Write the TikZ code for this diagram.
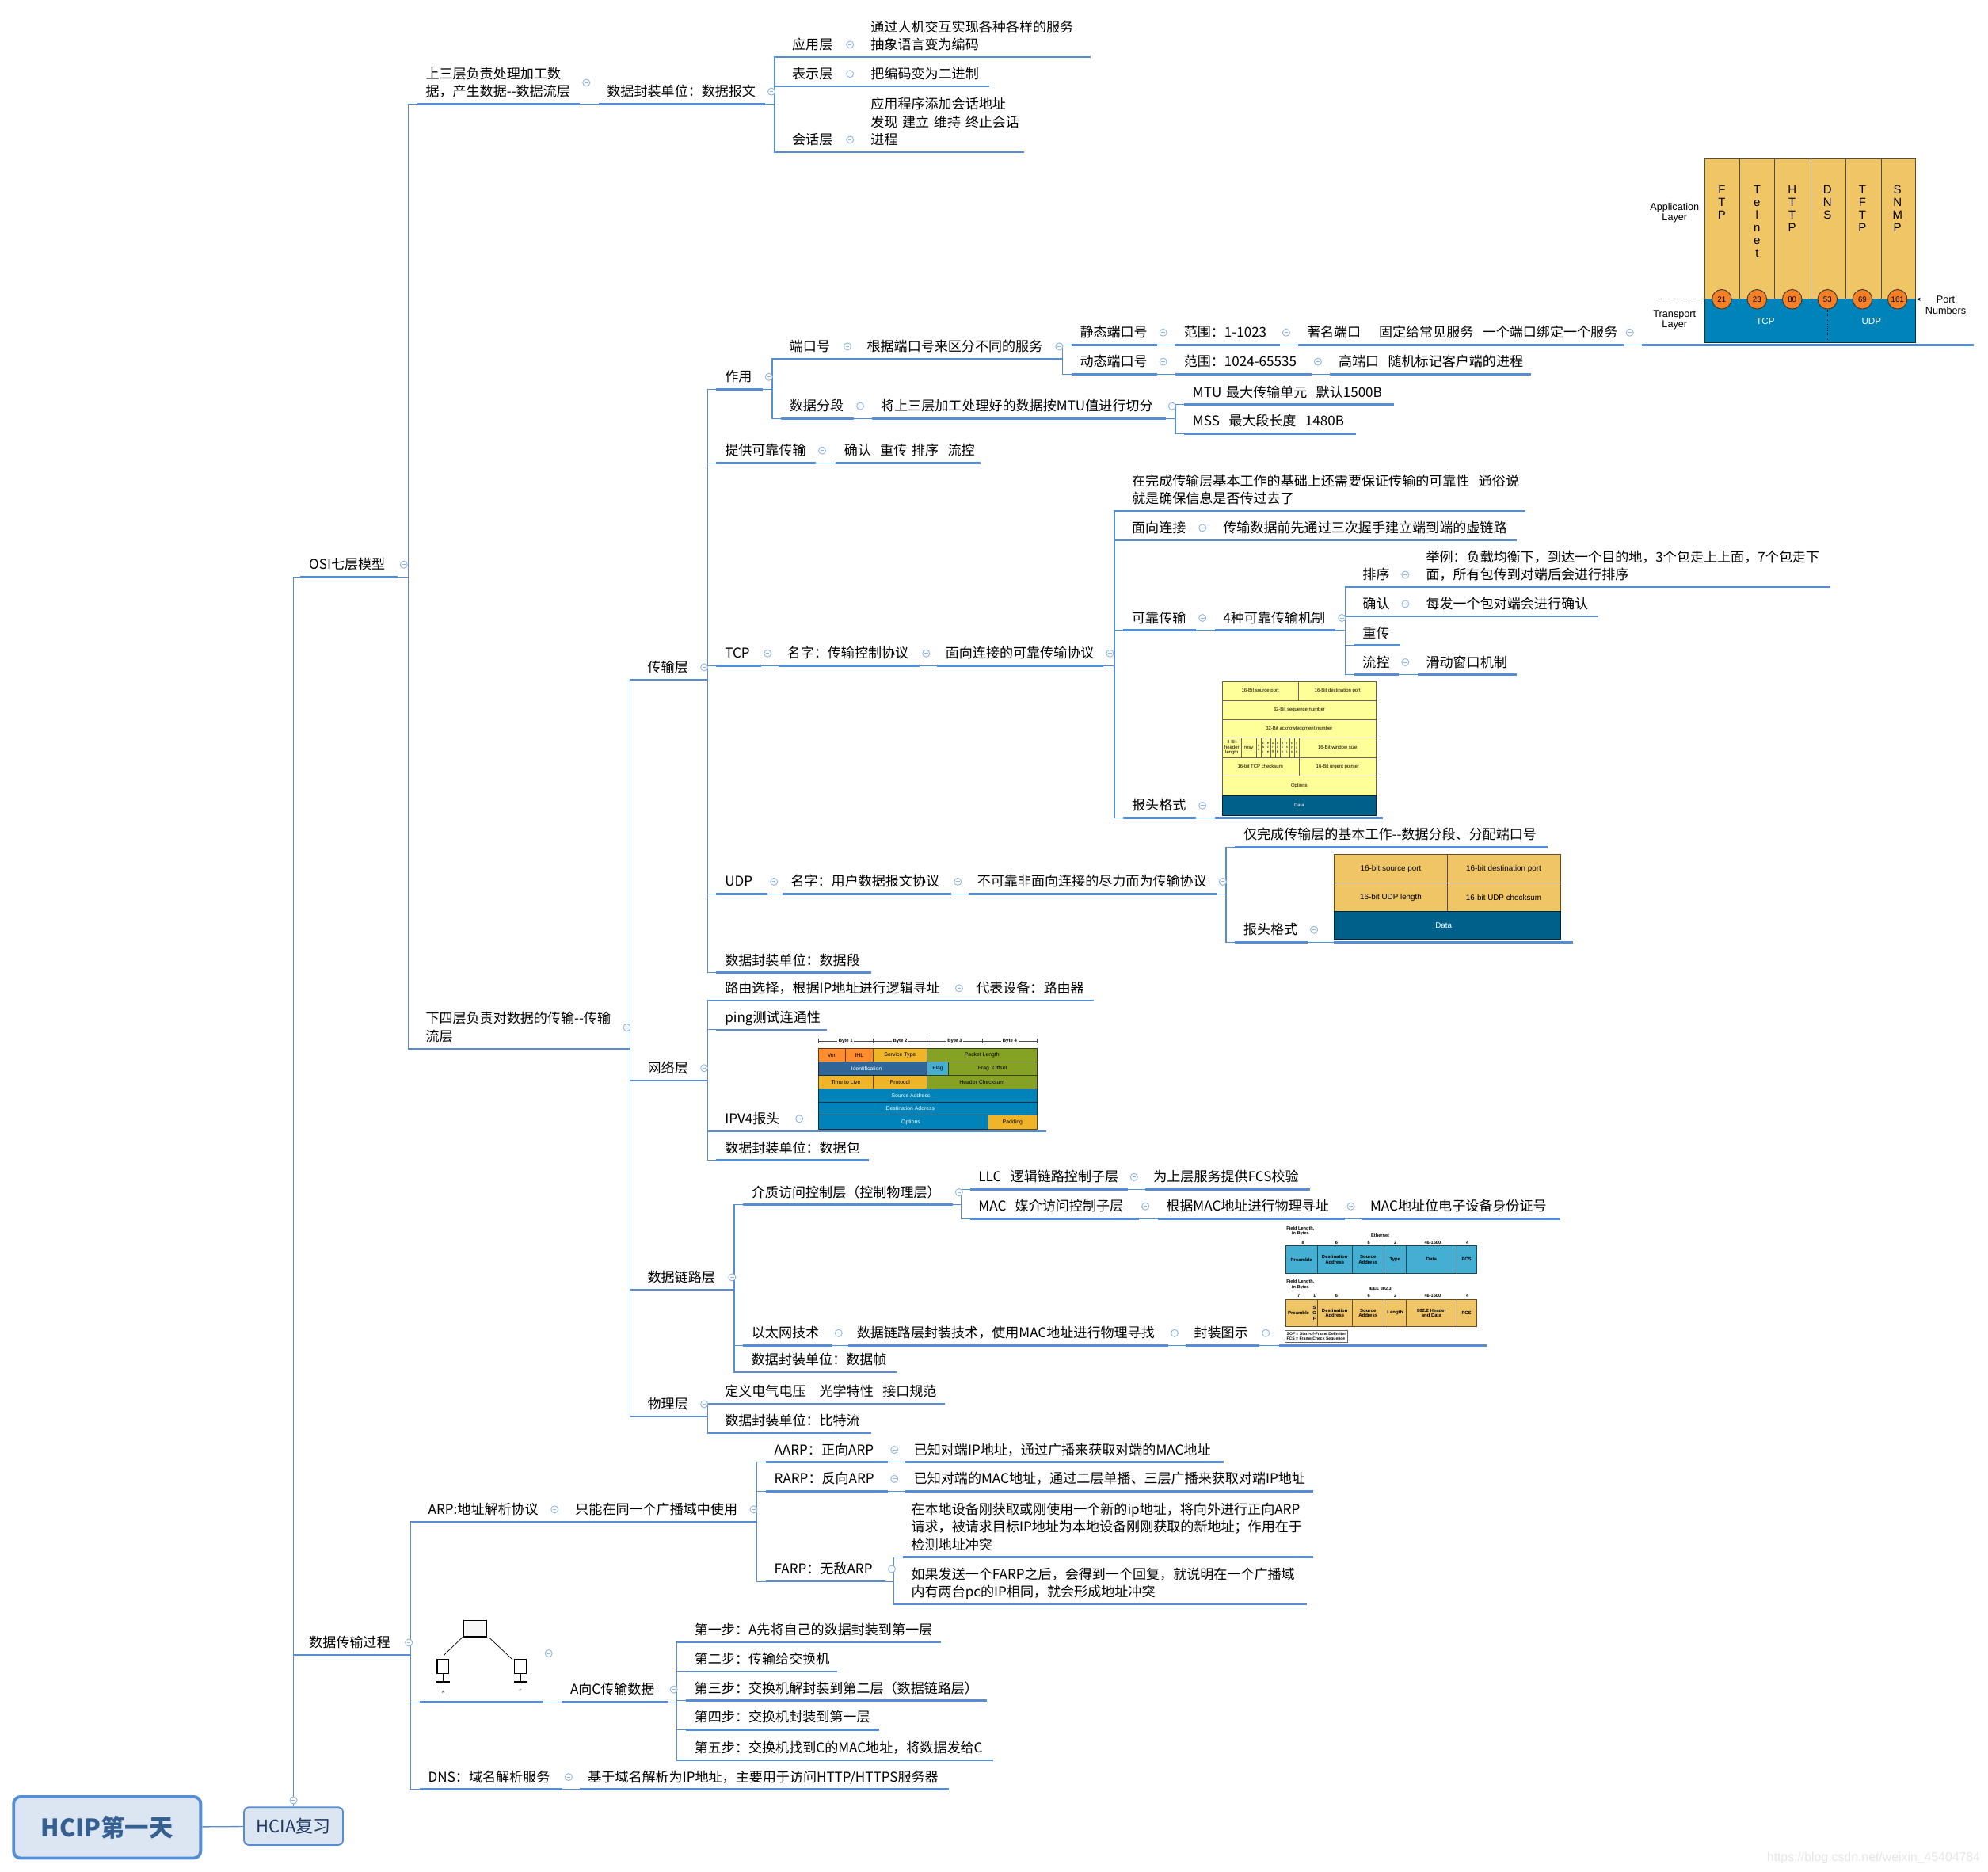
\documentclass[tikz,border=0pt]{standalone}
\usepackage{fontspec}
\setmainfont{Noto Sans CJK SC}
\newfontfamily\imgfont{Liberation Sans}
\usepackage{xcolor}
\usepackage{tikz}
\usetikzlibrary{arrows.meta,calc}
\definecolor{cLine}{HTML}{558ED5}
\definecolor{cFold}{HTML}{8DB4E2}
\definecolor{cPale}{HTML}{DCE6F2}
\definecolor{cNavy}{HTML}{365F91}
\definecolor{cInk}{HTML}{1F3864}
\definecolor{cTan}{HTML}{EFC566}
\definecolor{cSea}{HTML}{0083B8}
\definecolor{cDeep}{HTML}{00608A}
\definecolor{cLemon}{HTML}{FFFF99}
\definecolor{cSky}{HTML}{44AED3}
\definecolor{cPeel}{HTML}{FF8C2E}
\definecolor{cGold}{HTML}{F0B429}
\definecolor{cMoss}{HTML}{85A225}
\definecolor{cSteel}{HTML}{2F6698}
\definecolor{cPort}{HTML}{F58025}
\tikzset{
  topic/.style={anchor=south west,inner xsep=0.21cm,inner ysep=0.05cm,align=left,font=\fontsize{9.7}{12.7}\selectfont},
  uline/.style={draw=cLine,line width=1.5pt},
  link/.style={draw=cLine,line width=0.75pt},
  foldmark/.style={circle,draw=cFold,fill=white,line width=0.5pt,minimum size=0.18cm,inner sep=0pt,
    path picture={\draw[cFold,line width=0.5pt] ([xshift=0.045cm]path picture bounding box.west) -- ([xshift=-0.045cm]path picture bounding box.east);}},
  cell/.style={draw=#1!40!black,fill=#1,line width=0.4pt},
  cell/.default=cTan,
  imgt/.style={font=\imgfont\fontsize{#1}{#1}\selectfont,inner sep=0pt,align=center},
  imgt/.default=3.5,
}
\begin{document}
\begin{tikzpicture}[x=0.032cm,y=-0.032cm]
  \useasboundingbox (0,0) rectangle (1568,1476);
  % root
  \node[draw=cLine,fill=cPale,rounded corners=5pt,line width=2.2pt,minimum width=4.72cm,minimum height=1.55cm,font=\fontsize{17.3}{20}\selectfont\bfseries,text=cNavy] (root) at (84.5,1441) {HCIP第一天};
  \node[draw=cLine,fill=cPale,rounded corners=3pt,line width=1pt,minimum width=2.5cm,minimum height=0.95cm,font=\fontsize{12.5}{15}\selectfont,text=cInk] (hcia) at (231.5,1440) {HCIA复习};
  % topics
  \foreach \n/\xa/\xb/\y/\txt in {
    osi/237/313/455/{OSI七层模型},
    trans/237/317/1305/{数据传输过程},
    up/329/457/82/{上三层负责处理加工数\\据，产生数据-{}-数据流层},
    low/329/489/827/{下四层负责对数据的传输-{}-传输\\流层},
    unit/472/603/82/{数据封装单位：数据报文},
    app/618/665/45/{应用层},
    appx/680/860/45/{通过人机交互实现各种各样的服务\\抽象语言变为编码},
    pres/618/665/68/{表示层},
    presx/680/780/68/{把编码变为二进制},
    sess/618/665/120/{会话层},
    sessx/680/807/120/{应用程序添加会话地址\\发现~建立~维持~终止会话\\进程},
    tl/504/550/536/{传输层},
    nl/504/550/852/{网络层},
    dll/504/572/1017/{数据链路层},
    pl/504/550/1117/{物理层},
    use/565/601/307/{作用},
    port/616/663/283/{端口号},
    portx/677/830/283/{根据端口号来区分不同的服务},
    stat/845/912/272/{静态端口号},
    statr/927/1009/272/{范围：1-1023},
    statn/1024/1280/272/{著名端口~~~~固定给常见服务~~一个端口绑定一个服务},
    dyn/845/912/295/{动态端口号},
    dynr/927/1034/295/{范围：1024-65535},
    dynh/1049/1207/295/{高端口~~随机标记客户端的进程},
    seg/616/673/330/{数据分段},
    segx/688/919/330/{将上三层加工处理好的数据按MTU值进行切分},
    mtu/934/1099/319/{MTU~最大传输单元~~默认1500B},
    mss/934/1069/342/{MSS~~最大段长度~~1480B},
    rel/565/643/365/{提供可靠传输},
    relx/659/773/365/{确认~~重传~排序~~流控},
    tcp/565/600/525/{TCP},
    tcpn/614/725/525/{名字：传输控制协议},
    tcpc/739/870/525/{面向连接的可靠传输协议},
    tcpa/886/1203/403/{在完成传输层基本工作的基础上还需要保证传输的可靠性~~通俗说\\就是确保信息是否传过去了},
    conn/886/943/426/{面向连接},
    connx/958/1196/426/{传输数据前先通过三次握手建立端到端的虚链路},
    tcpr/886/943/497/{可靠传输},
    mech/958/1053/497/{4种可靠传输机制},
    sort/1068/1103/463/{排序},
    sortx/1118/1443/463/{举例：负载均衡下，到达一个目的地，3个包走上上面，7个包走下\\面，所有包传到对端后会进行排序},
    ack/1068/1103/486/{确认},
    ackx/1118/1260/486/{每发一个包对端会进行确认},
    resend/1068/1104/509/{重传},
    flow/1068/1103/532/{流控},
    flowx/1118/1196/532/{滑动窗口机制},
    thead/886/943/645/{报头格式},
    udp/565/605/705/{UDP},
    udpn/617/750/705/{名字：用户数据报文协议},
    udpc/764/959/705/{不可靠非面向连接的尽力而为传输协议},
    udpa/974/1220/668/{仅完成传输层的基本工作-{}-数据分段、分配端口号},
    uhead/974/1031/743/{报头格式},
    seu/565/687/767/{数据封装单位：数据段},
    route/565/751/789/{路由选择，根据IP地址进行逻辑寻址},
    routex/763/862/789/{代表设备：路由器},
    ping/565/652/812/{ping测试连通性},
    ipv/565/625/892/{IPV4报头},
    pkt/565/685/915/{数据封装单位：数据包},
    mac/586/751/950/{介质访问控制层（控制物理层）},
    llc/765/889/938/{LLC~~逻辑链路控制子层},
    llcx/903/1033/938/{为上层服务提供FCS校验},
    macs/765/898/961/{MAC~~媒介访问控制子层},
    macx/913/1060/961/{根据MAC地址进行物理寻址},
    macy/1074/1230/961/{MAC地址位电子设备身份证号},
    eth/586/656/1061/{以太网技术},
    ethx/669/921/1061/{数据链路层封装技术，使用MAC地址进行物理寻找},
    ethy/935/993/1061/{封装图示},
    frm/586/707/1082/{数据封装单位：数据帧},
    phy/565/745/1107/{定义电气电压~~~光学特性~~接口规范},
    bit/565/687/1130/{数据封装单位：比特流},
    arp/331/432/1200/{ARP:地址解析协议},
    arpx/447/589/1200/{只能在同一个广播域中使用},
    aarp/604/700/1153/{AARP：正向ARP},
    aarpx/714/965/1153/{已知对端IP地址，通过广播来获取对端的MAC地址},
    rarp/604/700/1176/{RARP：反向ARP},
    rarpx/714/1035/1176/{已知对端的MAC地址，通过二层单播、三层广播来获取对端IP地址},
    farp/604/698/1247/{FARP：无敌ARP},
    farpa/712/1035/1228/{在本地设备刚获取或刚使用一个新的ip地址，将向外进行正向ARP\\请求，被请求目标IP地址为本地设备刚刚获取的新地址；作用在于\\检测地址冲突},
    farpb/712/1030/1265/{如果发送一个FARP之后，会得到一个回复，就说明在一个广播域\\内有两台pc的IP相同，就会形成地址冲突},
    atoc/443/526/1342/{A向C传输数据},
    sa/541/742/1295/{第一步：A先将自己的数据封装到第一层},
    sb/541/660/1318/{第二步：传输给交换机},
    sc/541/778/1341/{第三步：交换机解封装到第二层（数据链路层）},
    sd/541/693/1364/{第四步：交换机封装到第一层},
    se/541/783/1388/{第五步：交换机找到C的MAC地址，将数据发给C},
    dns/331/443/1411/{DNS：域名解析服务},
    dnsx/457/748/1411/{基于域名解析为IP地址，主要用于访问HTTP/HTTPS服务器},
    portpic/1295/1556/272/{},
    tpic/958/1090/645/{},
    upic/1052/1240/743/{},
    ipic/640/825/892/{},
    epic/1009/1172/1061/{}%
  }{
    \pgfmathsetlengthmacro{\tw}{(\xb-\xa-13.125)*0.032cm}
    \node[topic,text width=\tw] (\n) at (\xa,\y) {\strut\txt\strut};
  }
  \node[topic,text width=2.66cm,minimum height=2.37cm] (netpic) at (331,1342) {};
  % connectors
  \draw[link] (root) -- (hcia);
  \draw[link] (hcia.north) |- (osi.south west);
  \draw[link] (hcia.north) |- (trans.south west);
  \foreach \a/\b in {osi/up,osi/low,up/unit,unit/app,unit/pres,unit/sess,app/appx,pres/presx,sess/sessx,
    low/tl,low/nl,low/dll,low/pl,tl/use,tl/rel,tl/tcp,tl/udp,tl/seu,use/port,use/seg,port/portx,portx/stat,portx/dyn,
    stat/statr,statr/statn,statn/portpic,dyn/dynr,dynr/dynh,seg/segx,segx/mtu,segx/mss,rel/relx,tcp/tcpn,tcpn/tcpc,
    tcpc/tcpa,tcpc/conn,tcpc/tcpr,tcpc/thead,conn/connx,tcpr/mech,mech/sort,mech/ack,mech/resend,mech/flow,sort/sortx,ack/ackx,flow/flowx,thead/tpic,
    udp/udpn,udpn/udpc,udpc/udpa,udpc/uhead,uhead/upic,
    nl/route,nl/ping,nl/ipv,nl/pkt,route/routex,ipv/ipic,
    dll/mac,dll/eth,dll/frm,mac/llc,mac/macs,llc/llcx,macs/macx,macx/macy,eth/ethx,ethx/ethy,ethy/epic,
    pl/phy,pl/bit,trans/arp,trans/netpic,trans/dns,arp/arpx,arpx/aarp,arpx/rarp,arpx/farp,aarp/aarpx,rarp/rarpx,farp/farpa,farp/farpb,
    netpic/atoc,atoc/sa,atoc/sb,atoc/sc,atoc/sd,atoc/se,dns/dnsx}{
    \draw[link] (\a.south east) -| ($(\b.south west)+(-7,0)$) -- (\b.south west);
  }
  % underlines
  \foreach \n in {osi,trans,up,low,unit,app,appx,pres,presx,sess,sessx,tl,nl,dll,pl,use,port,portx,stat,statr,statn,dyn,dynr,dynh,seg,segx,mtu,mss,rel,relx,
    tcp,tcpn,tcpc,tcpa,conn,connx,tcpr,mech,sort,sortx,ack,ackx,resend,flow,flowx,thead,udp,udpn,udpc,udpa,uhead,seu,route,routex,ping,ipv,pkt,
    mac,llc,llcx,macs,macx,macy,eth,ethx,ethy,frm,phy,bit,arp,arpx,aarp,aarpx,rarp,rarpx,farp,farpa,farpb,atoc,sa,sb,sc,sd,se,dns,dnsx,portpic,tpic,upic,ipic,epic,netpic}{
    \draw[uline] (\n.south west) -- (\n.south east);
  }
  % fold marks
  \foreach \n in {osi,trans,up,low,unit,app,pres,sess,tl,nl,dll,pl,use,port,portx,stat,statr,statn,dyn,dynr,seg,segx,rel,tcp,tcpn,tcpc,conn,tcpr,mech,sort,ack,flow,thead,
    udp,udpn,udpc,uhead,route,ipv,mac,llc,macs,macx,eth,ethx,ethy,arp,arpx,aarp,rarp,farp,atoc,dns,netpic}{
    \node[foldmark] (\n-fold) at ($(\n.east)+(5,-1)$) {};
  }
  \node[foldmark] (hcia-fold) at ($(hcia.north)+(0,-5)$) {};
  % port numbers
  \draw[cell=cTan] (1344.4,125) rectangle (1510.6,236);
  \draw[cell=cSea] (1344.4,236) rectangle (1510.6,270);
  \foreach \x in {1372,1399.5,1428.2,1455.6,1483.8}{\draw[black!70,line width=0.5pt] (\x,125) -- (\x,236);}
  \draw[dashed,black!70,line width=0.5pt] (1307.6,236) -- (1344.4,236);
  \draw[densely dotted,line width=0.5pt] (1441.4,244) -- (1441.4,270);
  \foreach \x/\t in {1358/{F\\T\\P},1385.8/{T\\e\\l\\n\\e\\t},1413.5/{H\\T\\T\\P},1441.4/{D\\N\\S},1468.9/{T\\F\\T\\P},1496.6/{S\\N\\M\\P}}{
    \node[imgt=8.5,font=\imgfont\fontsize{8.5}{9.1}\selectfont,anchor=north] at (\x,146) {\t};
  }
  \foreach \x/\t in {1358/21,1385.8/23,1413.5/80,1441.4/53,1468.9/69,1496.6/161}{
    \node[circle,draw=black!80,fill=cPort,line width=0.5pt,minimum size=0.49cm,inner sep=0pt,font=\imgfont\fontsize{5.5}{6}\selectfont] at (\x,236) {\t};
  }
  \node[imgt=6.6,text=white] at (1392.4,253.4) {TCP};
  \node[imgt=6.6,text=white] at (1476,253.4) {UDP};
  \node[imgt=7.2,font=\imgfont\fontsize{7.2}{7.6}\selectfont] at (1320.8,168) {Application\\Layer};
  \node[imgt=7.2,font=\imgfont\fontsize{7.2}{7.6}\selectfont] at (1320.8,252.3) {Transport\\Layer};
  \node[imgt=7.2,font=\imgfont\fontsize{7.2}{7.6}\selectfont] at (1534.6,240.6) {Port\\Numbers};
  \draw[line width=0.6pt,-{Stealth[length=3pt]}] (1525,236) -- (1511.5,236);
  % tcp header
  \draw[cell=cLemon] (964,537.2) rectangle (1085.5,627.4);
  \draw[cell=cDeep] (964,627.4) rectangle node[imgt=3.4,text=white] {Data} (1085.5,643);
  \foreach \y in {552.2,567.6,581.8,597.2,611.8}{\draw[black!60,line width=0.4pt] (964,\y) -- (1085.5,\y);}
  \draw[black!60,line width=0.4pt] (1024,537.2) -- (1024,552.2) (1024.5,597.2) -- (1024.5,611.8);
  \foreach \x/\a/\b/\t in {994/537.2/552.2/{16-Bit source port},1055/537.2/552.2/{16-Bit destination port},1024.7/552.2/567.6/{32-Bit sequence number},1024.7/567.6/581.8/{32-Bit acknowledgment number},1055/581.8/597.2/{16-Bit window size},994/597.2/611.8/{16-bit TCP checksum},1055/597.2/611.8/{16-Bit urgent pointer},1024.7/611.8/627.4/{Options},971.6/581.8/597.2/{4-Bit\\header\\length},985/581.8/597.2/{resv}}{
    \node[imgt=3.4,font=\imgfont\fontsize{3.4}{3.6}\selectfont] at (\x,{(\a+\b)/2}) {\t};
  }
  \draw[black!60,line width=0.4pt] (979.3,581.8) -- (979.3,597.2) (990.7,581.8) -- (990.7,597.2);
  \foreach \i/\t in {0/{n\\s},1/{c\\w\\r},2/{e\\c\\e},3/{u\\r\\g},4/{a\\c\\k},5/{p\\s\\h},6/{r\\s\\t},7/{s\\y\\n},8/{f\\i\\n}}{
    \draw[black!60,line width=0.3pt] ({990.7+(\i+1)*3.75},581.8) -- ({990.7+(\i+1)*3.75},597.2);
    \node[font=\imgfont\fontsize{2.3}{3}\selectfont,inner sep=0pt,align=center] at ({990.7+(\i+0.5)*3.75},589.5) {\t};
  }
  % udp header
  \draw[cell=cTan] (1052.2,673.6) rectangle (1231,718.6);
  \draw[cell=cDeep] (1052.2,718.6) rectangle (1231,740.7);
  \draw[black!70,line width=0.5pt] (1141.7,673.6) -- (1141.7,718.6) (1052.2,695.9) -- (1231,695.9);
  \foreach \x/\y/\c/\t in {1097/685/black/{16-bit source port},1186/685/black/{16-bit destination port},1097/707.5/black/{16-bit UDP length},1186/707.5/black/{16-bit UDP checksum},1138.6/729.5/white/{Data}}{
    \node[imgt=5.6,text=\c] at (\x,\y) {\t};
  }
  % ipv4 header
  \draw[black!70,line width=0.3pt] (645.7,820.8) -- (818,820.8);
  \foreach \x in {645.7,688.4,731.3,774.8,818}{\draw[black!70,line width=0.3pt] (\x,818.8) -- (\x,823);}
  \foreach \x/\t in {667/Byte 1,710/Byte 2,753/Byte 3,796.4/Byte 4}{
    \node[imgt=3.4,font=\imgfont\bfseries\fontsize{3.4}{4}\selectfont,fill=white,inner xsep=1pt] at (\x,820.8) {\t};
  }
  \foreach \a/\b/\c/\d/\f/\g/\t in {
    645.7/826.7/667/837.3/cPeel/black/{Ver.},
    667/826.7/688.4/837.3/cPeel/black/{IHL},
    688.4/826.7/731.3/837.3/cGold/black/{Service Type},
    731.3/826.7/817.7/837.3/cMoss/black/{Packet Length},
    731.3/837.3/748/847.9/cSky/black/{Flag},
    748/837.3/817.7/847.9/cMoss/black/{Frag. Offset},
    645.7/847.9/688.4/858.3/cGold/black/{Time to Live},
    688.4/847.9/731.3/858.3/cGold/black/{Protocol},
    731.3/847.9/817.7/858.3/cMoss/black/{Header Checksum},
    779.4/879.4/817.7/890.2/cGold/black/{Padding}}{
    \draw[cell=\f,line width=0.3pt] (\a,\b) rectangle node[imgt=3.9,text=\g] {\t} (\c,\d);
  }
  \foreach \a/\b/\c/\d/\f/\tx/\t in {
    645.7/837.3/731.3/847.9/cSteel/683.5/{Identification},
    645.7/858.3/817.7/869.1/cSea/718.4/{Source Address},
    645.7/869.1/817.7/879.4/cSea/718/{Destination Address},
    645.7/879.4/779.4/890.2/cSea/718.4/{Options}}{
    \draw[cell=\f,line width=0.3pt] (\a,\b) rectangle (\c,\d);
    \node[imgt=3.9,text=white] at (\tx,{(\b+\d)/2}) {\t};
  }
  % frame formats
  \foreach \a/\b/\t in {1014/1039/Preamble,1039/1066.5/{Destination\\Address},1066.5/1091.5/{Source\\Address},1091.5/1109.2/Type,1109.2/1149/Data,1149/1164.5/FCS}{
    \draw[cell=cSky] (\a,982.4) rectangle node[imgt=3.4,font=\imgfont\bfseries\fontsize{3.4}{3.8}\selectfont] {\t} (\b,1004);
  }
  \foreach \a/\b/\t in {1014/1034.5/Preamble,1034.5/1039/{S\\O\\F},1039/1066.5/{Destination\\Address},1066.5/1091.5/{Source\\Address},1091.5/1109.2/Length,1109.2/1149/{802.2 Header\\and Data},1149/1164.5/FCS}{
    \draw[cell=cTan] (\a,1024.5) rectangle node[imgt=3.4,font=\imgfont\bfseries\fontsize{3.4}{3.8}\selectfont] {\t} (\b,1046.1);
  }
  \foreach \x/\y/\t in {1027.8/980/8,1054.2/980/6,1079.6/980/6,1100.5/980/2,1130/980/46-1500,1157.3/980/4,
    1024.3/1022/7,1036.8/1022/1,1054.2/1022/6,1079.6/1022/6,1100.5/1022/2,1130/1022/46-1500,1157.3/1022/4,
    1088.6/974/Ethernet,1088.6/1016/IEEE 802.3,1025.7/970.8/{Field Length,\\in Bytes},1025.7/1013/{Field Length,\\in Bytes}}{
    \node[imgt=3.2,font=\imgfont\bfseries\fontsize{3.2}{3.9}\selectfont] at (\x,\y) {\t};
  }
  \node[draw=black!60,line width=0.4pt,inner sep=1pt,minimum width=1.55cm,minimum height=0.3cm,align=left,font=\imgfont\bfseries\fontsize{2.9}{3.4}\selectfont] at (1038.2,1053.9) {SOF = Start-of-Frame Delimiter\\FCS = Frame Check Sequence};
  % small network
  \draw[line width=0.8pt,fill=black!3] (365.8,1277.9) rectangle (384,1290.6);
  \draw[line width=0.4pt] (364.8,1291) -- (350.3,1305) (385.5,1291) -- (404.3,1308.7);
  \foreach \x/\xa/\xb/\t/\ty in {349.4/344.9/353.7/A/1334.5,410.6/405.8/415.2/C/1333}{
    \draw[line width=0.7pt] (\xa,1308.5) rectangle (\xb,1319.5);
    \draw[line width=0.7pt] (\x,1319.5) -- (\x,1326.3) (\x-5.3,1326.3) -- (\x+5.3,1326.3);
    \node[imgt=2.6] at (\x,\ty) {\t};
  }
  % watermark
  \node[font=\imgfont\fontsize{9}{10}\selectfont,text=black!10,anchor=east,inner sep=0pt] (mark) at (1562,1465) {https://blog.csdn.net/weixin\_45404784};
\end{tikzpicture}
\end{document}
